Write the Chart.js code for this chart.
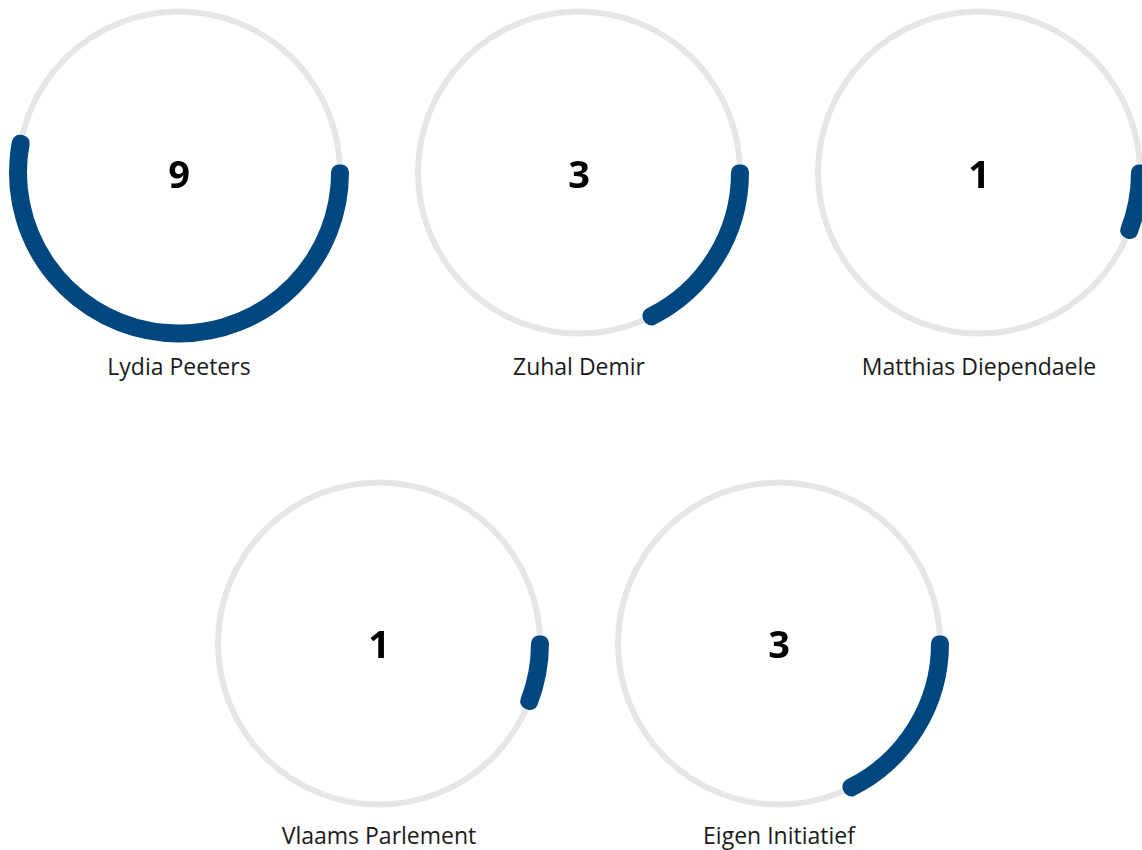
<!DOCTYPE html>
<html>
<head>
<meta charset="utf-8">
<script src="https://cdn.jsdelivr.net/npm/chart.js@4.4.1/dist/chart.umd.min.js"></script>
<style>
  html, body { margin: 0; padding: 0; background: #fff; overflow: hidden; }
  body { width: 1142px; height: 850px; position: relative; font-family: "Open Sans", sans-serif; }
  #wrap { position: absolute; left: -21px; top: 0; width: 1200px; }
  .row { display: flex; justify-content: center; height: 471px; }
  .cell { position: relative; width: 400px; height: 471px; }
  .cell canvas { position: absolute; left: 0; top: 0; }
  .num { position: absolute; left: 0; width: 400px; top: 154px; text-align: center;
         font-size: 38px; line-height: 38px; font-weight: 700; color: #000; }
  .lbl { position: absolute; left: 0; width: 400px; top: 355px; text-align: center;
         font-size: 23px; line-height: 23px; color: #1a1a1a; }
  #row2 .num { top: 153px; }
  #row2 .lbl { top: 353px; }
</style>
</head>
<body>
<div id="wrap">
  <div class="row" id="row1"></div>
  <div class="row" id="row2"></div>
</div>
<script>
const names = ['Lydia Peeters', 'Zuhal Demir', 'Matthias Diependaele', 'Vlaams Parlement', 'Eigen Initiatief'];
const counts = [9, 3, 1, 1, 3];
const total = counts.reduce((a, b) => a + b, 0);

const blue = '#00467f';
const track = '#e6e6e6';

// grey ring under the arc, taken from the arc's own geometry
const trackPlugin = {
  id: 'track',
  beforeDatasetsDraw(chart) {
    const arc = chart.getDatasetMeta(0).data[0];
    if (!arc) return;
    const ctx = chart.ctx;
    const r = (arc.innerRadius + arc.outerRadius) / 2;
    ctx.save();
    ctx.beginPath();
    ctx.arc(arc.x, arc.y, r, 0, Math.PI * 2);
    ctx.lineWidth = 6;
    ctx.strokeStyle = track;
    ctx.stroke();
    ctx.restore();
  }
};

for (let i = 0; i < names.length; i++) {
  const row = document.getElementById(i < 3 ? 'row1' : 'row2');
  const cell = document.createElement('div');
  cell.className = 'cell';
  const canvas = document.createElement('canvas');
  canvas.width = 400;
  canvas.height = 345;
  canvas.style.width = '400px';
  canvas.style.height = '345px';
  cell.appendChild(canvas);
  const num = document.createElement('div');
  num.className = 'num';
  num.textContent = counts[i];
  cell.appendChild(num);
  const lbl = document.createElement('div');
  lbl.className = 'lbl';
  lbl.textContent = names[i];
  cell.appendChild(lbl);
  row.appendChild(cell);

  new Chart(canvas.getContext('2d'), {
    type: 'doughnut',
    data: {
      labels: [names[i], ''],
      datasets: [{
        data: [counts[i], total - counts[i]],
        backgroundColor: [blue, 'rgba(0,0,0,0)'],
        borderColor: [blue, 'rgba(0,0,0,0)'],
        borderWidth: [16, 0],
        borderJoinStyle: 'round',
      }]
    },
    options: {
      responsive: false,
      maintainAspectRatio: false,
      animation: false,
      events: [],
      rotation: 90,
      radius: 162,
      cutout: '98.77%',
      layout: { padding: 0 },
      plugins: {
        legend: { display: false },
        tooltip: { enabled: false },
      },
    },
    plugins: [trackPlugin],
  });
}
</script>
</body>
</html>
